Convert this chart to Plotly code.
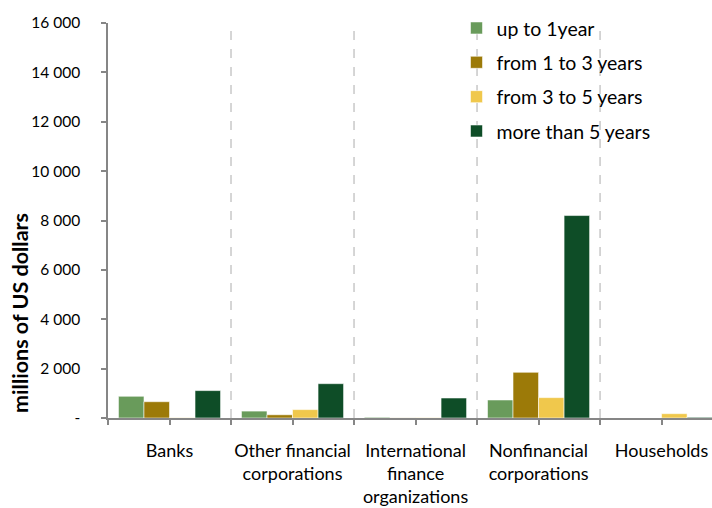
import plotly.graph_objects as go

categories = ["Banks", "Other financial<br>corporations", "International<br>finance<br>organizations",
              "Nonfinancial<br>corporations", "Households"]
series_names = ["up to 1year", "from 1 to 3 years", "from 3 to 5 years", "more than 5 years"]
up_to_1 = [880, 280, 30, 730, 0]
from_1_to_3 = [660, 130, 5, 1850, 0]
from_3_to_5 = [10, 340, 10, 825, 175]
more_than_5 = [1110, 1390, 810, 8200, 30]
colors = ["#699B5B", "#9C7A08", "#F0C84C", "#0E4D27"]
y_ticks = [0, 2000, 4000, 6000, 8000, 10000, 12000, 14000, 16000]
y_tick_labels = ["-", "2 000", "4 000", "6 000", "8 000", "10 000", "12 000", "14 000", "16 000"]
y_title = "millions of US dollars"

FONT = "Lato, 'Open Sans', sans-serif"
xpos = list(range(len(categories)))

fig = go.Figure()
for i, (name, vals) in enumerate(zip(series_names, [up_to_1, from_1_to_3, from_3_to_5, more_than_5])):
    fig.add_trace(go.Bar(
        x=xpos, y=vals, name=name, legendgroup=name,
        marker=dict(color=colors[i], line=dict(color="rgba(255,255,255,0.55)", width=1)),
    ))

for k in range(len(categories) - 1):
    fig.add_shape(type="line", xref="x", yref="y", x0=k + 0.5, x1=k + 0.5, y0=0, y1=y_ticks[-1],
                  line=dict(color="#C8C8C8", width=1.5, dash="dash"), layer="below")

fig.add_annotation(text="<b>" + y_title + "</b>", xref="paper", yref="paper",
                   x=-0.1457, y=0.266, xanchor="center", yanchor="middle",
                   textangle=-90, showarrow=False,
                   font=dict(size=21.5, family=FONT, color="#000000"))

fig.update_layout(
    width=712, height=508,
    margin=dict(l=108, r=0, t=23, b=90, autoexpand=False),
    paper_bgcolor="white", plot_bgcolor="white",
    barmode="group", bargap=0.17, bargroupgap=0,
    font=dict(family=FONT, size=15, color="#000000"),
    showlegend=True,
    legend=dict(x=0.577, y=1.036, xanchor="left", yanchor="top",
                font=dict(size=19.5, family=FONT), tracegroupgap=6,
                bgcolor="rgba(0,0,0,0)", itemwidth=30),
    xaxis=dict(range=[-0.5, 4.41], tickvals=xpos, ticktext=categories, automargin=False,
               showline=True, linecolor="#868686", linewidth=2,
               ticks="outside", ticklen=5, tickwidth=1.5, tickcolor="#868686",
               ticklabelstandoff=10,
               minor=dict(dtick=0.5, tick0=-0.5, ticks="outside", ticklen=5, tickwidth=1.5, tickcolor="#868686"),
               showgrid=False, zeroline=False, tickfont=dict(size=18)),
    yaxis=dict(range=[0, 16000], tickvals=y_ticks, ticktext=y_tick_labels, automargin=False,
               showline=True, linecolor="#868686", linewidth=1.5,
               ticks="outside", ticklen=5, tickwidth=1.5, tickcolor="#868686",
               ticklabelstandoff=18,
               showgrid=False, zeroline=False, tickfont=dict(size=15.5)),
)

fig.write_html("out.html", config={"displayModeBar": False},
               post_script="document.body.style.margin='0';document.body.style.overflow='hidden';")
